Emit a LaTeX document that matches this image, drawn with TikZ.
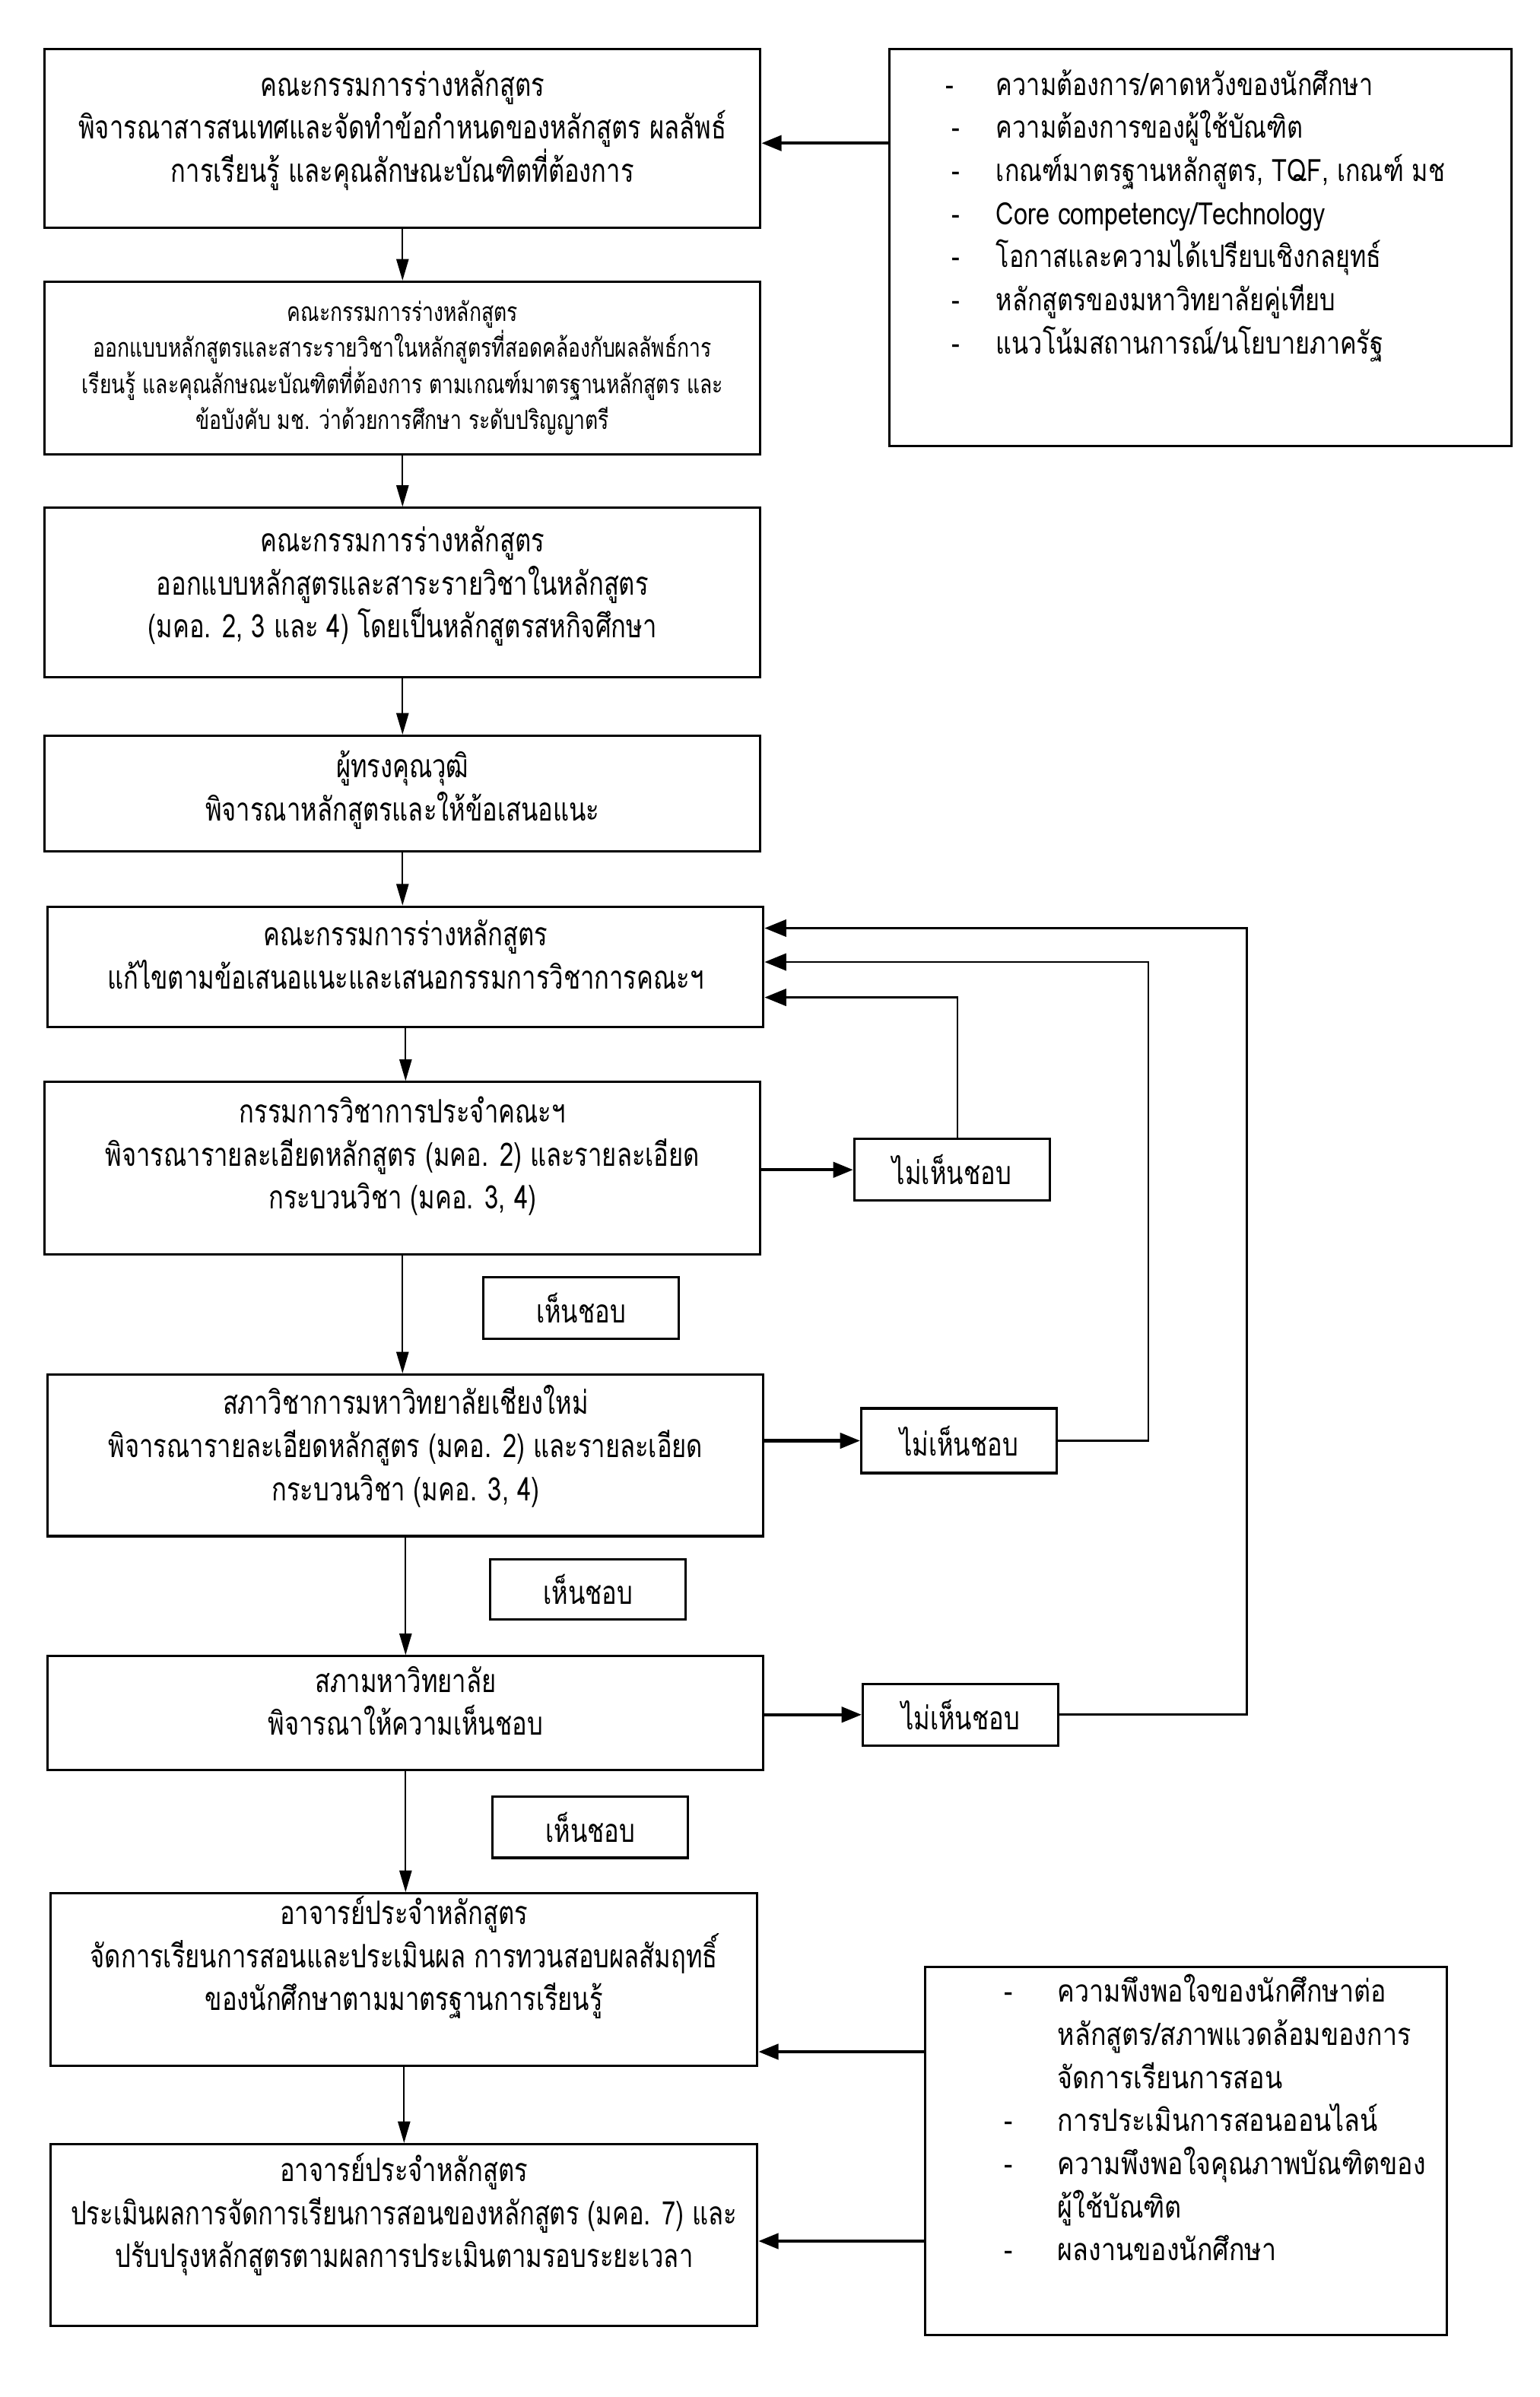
\documentclass[tikz,border=0pt]{standalone}
\usepackage{fontspec}
\newfontfamily\thai[Script=Thai,FakeStretch=0.77]{Loma}
\newfontfamily\thaiL[Script=Thai,FakeStretch=0.8]{Loma}
\newfontfamily\thaiR[Script=Thai,FakeStretch=0.84]{Loma}
\newcommand\dn[1]{\rule[-#1pt]{0pt}{0pt}}
\usetikzlibrary{arrows.meta}
\begin{document}
\begin{tikzpicture}[x=1pt,y=-1pt,
  stepbox/.style={draw, line width=1.5pt, inner sep=0pt, align=center,
    font=\thai\fontsize{21}{28}\selectfont},
  smallbox/.style={stepbox, font=\thai\fontsize{17}{23.5}\selectfont},
  listbox/.style={draw, line width=1.5pt, inner sep=0pt},
  listtext/.style={inner sep=0pt, anchor=north west, align=left,
    font=\thaiL\fontsize{20}{28}\selectfont},
  tagbox/.style={stepbox, minimum width=127pt, minimum height=40pt},
  varr/.style={-{Triangle[length=14pt,width=8pt]}, line width=1pt},
  harr/.style={-{Triangle[length=13pt,width=10pt]}, line width=2pt},
  farr/.style={-{Triangle[length=14pt,width=11pt]}, line width=1.4pt}]
\useasboundingbox (0,0) rectangle (1000,1557.3);

% main column
\node[stepbox, minimum width=465pt, minimum height=116pt] (b1) at (261.5,90)
  {คณะกรรมการร่างหลักสูตร\\พิจารณาสารสนเทศและจัดทำข้อกำหนดของหลักสูตร ผลลัพธ์\\การเรียนรู้ และคุณลักษณะบัณฑิตที่ต้องการ\dn{16}};
\node[smallbox, minimum width=465pt, minimum height=112pt] (b2) at (261.5,239)
  {คณะกรรมการร่างหลักสูตร\\ออกแบบหลักสูตรและสาระรายวิชาในหลักสูตรที่สอดคล้องกับผลลัพธ์การ\\เรียนรู้ และคุณลักษณะบัณฑิตที่ต้องการ ตามเกณฑ์มาตรฐานหลักสูตร และ\\ข้อบังคับ มช. ว่าด้วยการศึกษา ระดับปริญญาตรี};
\node[stepbox, minimum width=465pt, minimum height=110pt] (b3) at (261.5,385)
  {คณะกรรมการร่างหลักสูตร\\ออกแบบหลักสูตรและสาระรายวิชาในหลักสูตร\\(มคอ. 2, 3 และ 4) โดยเป็นหลักสูตรสหกิจศึกษา\dn{14}};
\node[stepbox, minimum width=465pt, minimum height=75pt] (b4) at (261.5,515.5)
  {ผู้ทรงคุณวุฒิ\\พิจารณาหลักสูตรและให้ข้อเสนอแนะ\dn{10}};
\node[stepbox, minimum width=465pt, minimum height=78pt] (b5) at (263.5,628)
  {คณะกรรมการร่างหลักสูตร\\แก้ไขตามข้อเสนอแนะและเสนอกรรมการวิชาการคณะฯ\dn{16}};
\node[stepbox, minimum width=465pt, minimum height=112pt] (b6) at (261.5,759)
  {กรรมการวิชาการประจำคณะฯ\\พิจารณารายละเอียดหลักสูตร (มคอ. 2) และรายละเอียด\\กระบวนวิชา (มคอ. 3, 4)\dn{20}};
\node[stepbox, minimum width=465pt, minimum height=105pt] (b7) at (263.5,945.5)
  {สภาวิชาการมหาวิทยาลัยเชียงใหม่\\พิจารณารายละเอียดหลักสูตร (มคอ. 2) และรายละเอียด\\กระบวนวิชา (มคอ. 3, 4)\dn{16}};
\node[stepbox, minimum width=465pt, minimum height=74pt] (b8) at (263.5,1113)
  {สภามหาวิทยาลัย\\พิจารณาให้ความเห็นชอบ\dn{16}};
\node[stepbox, minimum width=459pt, minimum height=112pt] (b9) at (262.5,1286)
  {อาจารย์ประจำหลักสูตร\\จัดการเรียนการสอนและประเมินผล การทวนสอบผลสัมฤทธิ์\\ของนักศึกษาตามมาตรฐานการเรียนรู้\dn{34}};
\node[stepbox, minimum width=459pt, minimum height=118pt] (b10) at (262.5,1452)
  {อาจารย์ประจำหลักสูตร\\ประเมินผลการจัดการเรียนการสอนของหลักสูตร (มคอ. 7) และ\\ปรับปรุงหลักสูตรตามผลการประเมินตามรอบระยะเวลา\dn{32}};

% decision tags
\node[tagbox] (na1) at (618.5,760) {ไม่เห็นชอบ};
\node[tagbox] (ap1) at (377.5,850) {เห็นชอบ};
\node[tagbox, minimum height=42pt] (na2) at (623,936) {ไม่เห็นชอบ};
\node[tagbox, minimum height=39pt] (ap2) at (382,1032.5) {เห็นชอบ};
\node[tagbox] (na3) at (624,1114) {ไม่เห็นชอบ};
\node[tagbox] (ap3) at (383.5,1187) {เห็นชอบ};

% input lists
\node[listbox, minimum width=404pt, minimum height=258pt] (r1) at (780,161) {};
\node[listtext] (r1t) at (618,42) {\begin{tabular}{@{}p{29pt}@{}l@{}}
 \hspace{-4pt}- & ความต้องการ/คาดหวังของนักศึกษา\\
 - & ความต้องการของผู้ใช้บัณฑิต\\
 - & เกณฑ์มาตรฐานหลักสูตร, TQF, เกณฑ์ มช\\
 - & Core competency/Technology\\
 - & โอกาสและความได้เปรียบเชิงกลยุทธ์\\
 - & หลักสูตรของมหาวิทยาลัยคู่เทียบ\\
 - & แนวโน้มสถานการณ์/นโยบายภาครัฐ
\end{tabular}};
\node[listbox, minimum width=339pt, minimum height=239pt] (r2) at (770.5,1397.5) {};
\node[listtext, font=\thaiR\fontsize{20}{28}\selectfont] (r2t) at (652,1281) {\begin{tabular}{@{}p{35pt}@{}l@{}}
 - & ความพึงพอใจของนักศึกษาต่อ\\
   & หลักสูตร/สภาพแวดล้อมของการ\\
   & จัดการเรียนการสอน\\
 - & การประเมินการสอนออนไลน์\\
 - & ความพึงพอใจคุณภาพบัณฑิตของ\\
   & ผู้ใช้บัณฑิต\\
 - & ผลงานของนักศึกษา
\end{tabular}};

% helper coordinates for connector levels
\coordinate (y1) at (0,93);
\coordinate (c1) at (622,648);
\coordinate (c2) at (746,625);
\coordinate (c3) at (810,603);
\coordinate (y9) at (0,1333);
\coordinate (y10) at (0,1456);

% main flow
\draw[harr] (r1.west |- y1) -- (b1.east |- y1);
\draw[varr] (b1.south) -- (b1.south |- b2.north);
\draw[varr] (b2.south) -- (b2.south |- b3.north);
\draw[varr] (b3.south) -- (b3.south |- b4.north);
\draw[varr] (b4.south) -- (b4.south |- b5.north);
\draw[varr] (b5.south) -- (b5.south |- b6.north);
\draw[varr] (b6.south) -- (b6.south |- b7.north);
\draw[varr] (b7.south) -- (b7.south |- b8.north);
\draw[varr] (b8.south) -- (b8.south |- b9.north);
\draw[varr] (b9.south) -- (b9.south |- b10.north);

% to rejection tags
\draw[harr] (b6.east |- na1.west) -- (na1.west);
\draw[harr] (b7.east |- na2.west) -- (na2.west);
\draw[harr] (b8.east |- na3.west) -- (na3.west);

% feedback loops
\draw[farr] (na1.north -| c1) -- (c1) -- (b5.east |- c1);
\draw[farr] (na2.east) -| (c2) -- (b5.east |- c2);
\draw[farr] (na3.east) -| (c3) -- (b5.east |- c3);

% evaluation inputs
\draw[harr] (r2.west |- y9) -- (b9.east |- y9);
\draw[harr] (r2.west |- y10) -- (b10.east |- y10);
\end{tikzpicture}
\end{document}
